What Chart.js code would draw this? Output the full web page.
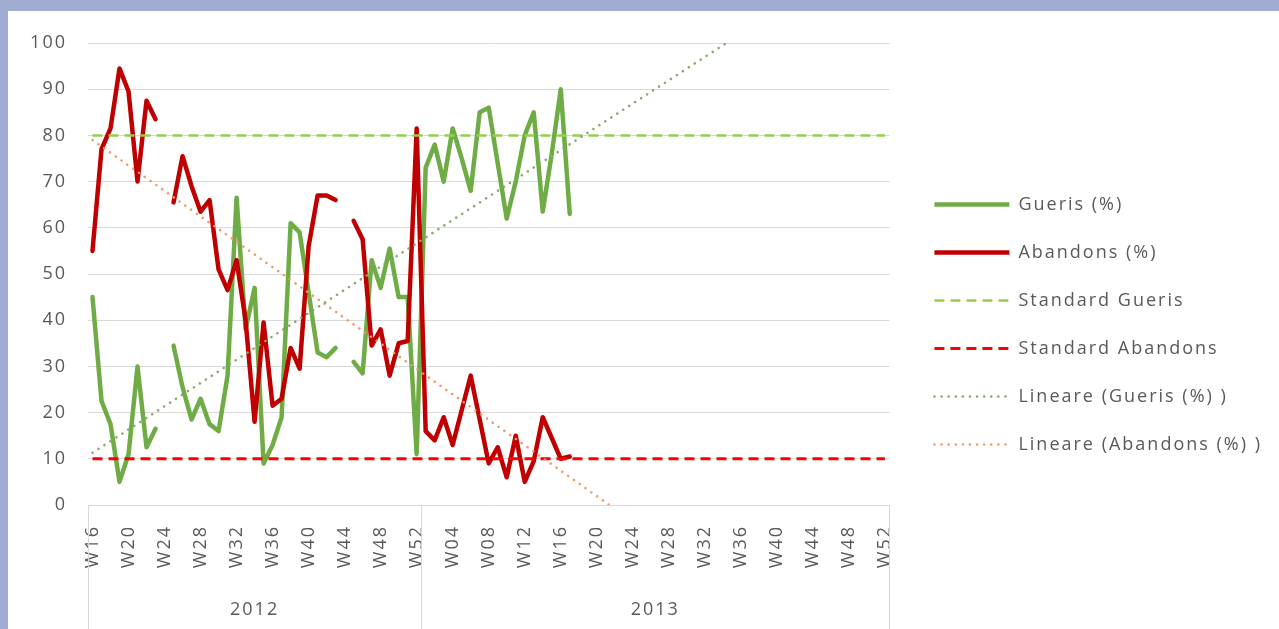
<!DOCTYPE html>
<html><head><meta charset="utf-8">
<script src="https://cdn.jsdelivr.net/npm/chart.js@4.4.1/dist/chart.umd.min.js"></script>
<style>
html,body{margin:0;padding:0;background:#9eadd1;width:1279px;height:629px;overflow:hidden}
#panel{position:absolute;left:8px;top:11px;width:1271px;height:618px;background:#fff}
canvas{display:block}
</style></head><body>
<div id="panel"><canvas id="c" width="1271" height="618"></canvas></div>
<script>
const weeks2012 = ['W16','W17','W18','W19','W20','W21','W22','W23','W24','W25','W26','W27','W28','W29','W30','W31','W32','W33','W34','W35','W36','W37','W38','W39','W40','W41','W42','W43','W44','W45','W46','W47','W48','W49','W50','W51','W52'];
const weeks2013 = ['W01','W02','W03','W04','W05','W06','W07','W08','W09','W10','W11','W12','W13','W14','W15','W16','W17','W18','W19','W20','W21','W22','W23','W24','W25','W26','W27','W28','W29','W30','W31','W32','W33','W34','W35','W36','W37','W38','W39','W40','W41','W42','W43','W44','W45','W46','W47','W48','W49','W50','W51','W52'];
const years = ['2012', '2013'];
const gueris = [45,22.5,17.5,5,11,30,12.5,16.5,null,34.5,25.5,18.5,23,17.5,16,28,66.5,38,47,9,13,19,61,59,46,33,32,34,null,31,28.5,53,47,55.5,45,45,11,73,78,70,81.5,75,68,85,86,74,62,70,80,85,63.5,76,90,63];
const abandons = [55,77,81.5,94.5,89.5,70,87.5,83.5,null,65.5,75.5,69,63.5,66,51,46.5,53,40,18,39.5,21.5,23,34,29.5,56,67,67,66,null,61.5,57.5,34.5,38,28,35,35.5,81.5,16,14,19,13,20.5,28,18.5,9,12.5,6,15,5,9.5,19,14.5,10,10.5];
const standardGueris = 80;
const standardAbandons = 10;
const trendGueris = [{x:0, y:11.3}, {x:70.4, y:100}];
const trendAbandons = [{x:0, y:79}, {x:57.4, y:0}];

const labels = weeks2012.concat(weeks2013);
const groups = [weeks2012, weeks2013];
const groupCenters = [];
let startIdx = 0;
groups.forEach(g => { groupCenters.push(startIdx + (g.length - 1) / 2); startIdx += g.length; });
const groupBounds = [-0.5, weeks2012.length - 0.5, labels.length - 0.5];

const TXT = '#595959';
const GRID = '#d9d9d9';
Chart.defaults.font.family = "'Open Sans', sans-serif";
Chart.defaults.font.size = 18;
Chart.defaults.color = TXT;

const spacing = {
  id: 'spacing',
  beforeUpdate(c) { c.ctx.letterSpacing = '2px'; },
  beforeDraw(c) { c.ctx.letterSpacing = '2px'; }
};
const separators = {
  id: 'separators',
  afterDraw(c) {
    const xs = c.scales.x, ctx = c.ctx;
    ctx.save();
    ctx.strokeStyle = GRID; ctx.lineWidth = 1;
    groupBounds.forEach(v => {
      const px = Math.round(xs.getPixelForValue(v)) + 0.5;
      ctx.beginPath(); ctx.moveTo(px, c.chartArea.bottom); ctx.lineTo(px, c.height); ctx.stroke();
    });
    ctx.restore();
  }
};

new Chart(document.getElementById('c'), {
  type: 'line',
  data: {
    labels: labels,
    datasets: [
      { label: 'Gueris (%)', data: gueris, borderColor: '#6fac46', backgroundColor: '#6fac46', borderWidth: 4.5, pointRadius: 0, borderJoinStyle: 'round', borderCapStyle: 'round', order: 3, xAxisID: 'x' },
      { label: 'Abandons (%)', data: abandons, borderColor: '#c00000', backgroundColor: '#c00000', borderWidth: 4.5, pointRadius: 0, borderJoinStyle: 'round', borderCapStyle: 'round', order: 2, xAxisID: 'x' },
      { label: 'Standard Gueris', data: labels.map(() => standardGueris), borderColor: '#92d050', backgroundColor: '#92d050', borderWidth: 2.5, borderDash: [10, 6], pointRadius: 0, order: 1, xAxisID: 'x' },
      { label: 'Standard Abandons', data: labels.map(() => standardAbandons), borderColor: '#ff0000', backgroundColor: '#ff0000', borderWidth: 3, borderDash: [10, 6], pointRadius: 0, order: 1, xAxisID: 'x' },
      { label: 'Lineare (Gueris (%) )', data: trendGueris, borderColor: '#86a86a', backgroundColor: '#86a86a', borderWidth: 2.5, borderDash: [0.1, 7], borderCapStyle: 'round', pointRadius: 0, order: 0, xAxisID: 'xYear' },
      { label: 'Lineare (Abandons (%) )', data: trendAbandons, borderColor: '#f09a66', backgroundColor: '#f09a66', borderWidth: 2.5, borderDash: [0.1, 7], borderCapStyle: 'round', pointRadius: 0, order: 0, xAxisID: 'xYear' }
    ]
  },
  options: {
    responsive: false,
    animation: false,
    events: [],
    layout: { padding: { top: 32, left: 0, right: 7, bottom: 0 } },
    plugins: {
      tooltip: { enabled: false },
      legend: {
        position: 'right',
        align: 'start',
        maxWidth: 420,
        title: { display: true, text: '', font: { size: 18 }, padding: { top: 101, bottom: 0 } },
        labels: {
          usePointStyle: true,
          pointStyle: 'line',
          pointStyleWidth: 75,
          padding: 30,
          color: TXT,
          font: { size: 18 },
          generateLabels: chart => chart.data.datasets.map((ds, i) => ({
            text: ds.label,
            datasetIndex: i,
            fillStyle: ds.borderColor,
            strokeStyle: ds.borderColor,
            lineWidth: ds.borderWidth,
            lineDash: ds.borderDash || [],
            lineCap: ds.borderDash ? (ds.borderCapStyle || 'butt') : 'butt',
            pointStyle: 'line',
            hidden: false,
            fontColor: TXT
          }))
        }
      }
    },
    scales: {
      x: {
        type: 'category',
        position: 'bottom',
        offset: true,
        grid: { display: false },
        border: { display: false },
        ticks: {
          autoSkip: false, minRotation: 90, maxRotation: 90, padding: 12, color: TXT,
          callback: function (v, i) { return i % 4 === 0 ? this.getLabelForValue(v) : ''; }
        },
        afterFit: s => { s.height = 80; }
      },
      xYear: {
        type: 'linear',
        position: 'bottom',
        weight: 1,
        min: -0.5, max: labels.length - 0.5,
        grid: { display: false },
        border: { display: false },
        afterBuildTicks: s => { s.ticks = groupCenters.map(v => ({ value: v })); },
        ticks: {
          padding: 6, maxRotation: 0, autoSkip: false, color: TXT,
          callback: v => { const k = groupCenters.indexOf(v); return k >= 0 ? years[k] : ''; }
        },
        afterFit: s => { s.height = 44; }
      },
      y: {
        min: 0, max: 100,
        ticks: { stepSize: 10, padding: 21, color: TXT },
        grid: { color: GRID, drawTicks: false },
        border: { display: false },
        afterFit: s => { s.width = 80; }
      },
      y2: {
        type: 'linear', position: 'right', min: 0, max: 100,
        grid: { display: false }, border: { display: false },
        ticks: { display: false },
        afterFit: s => { s.width = 15; }
      }
    }
  },
  plugins: [spacing, separators]
});
</script>
</body></html>
